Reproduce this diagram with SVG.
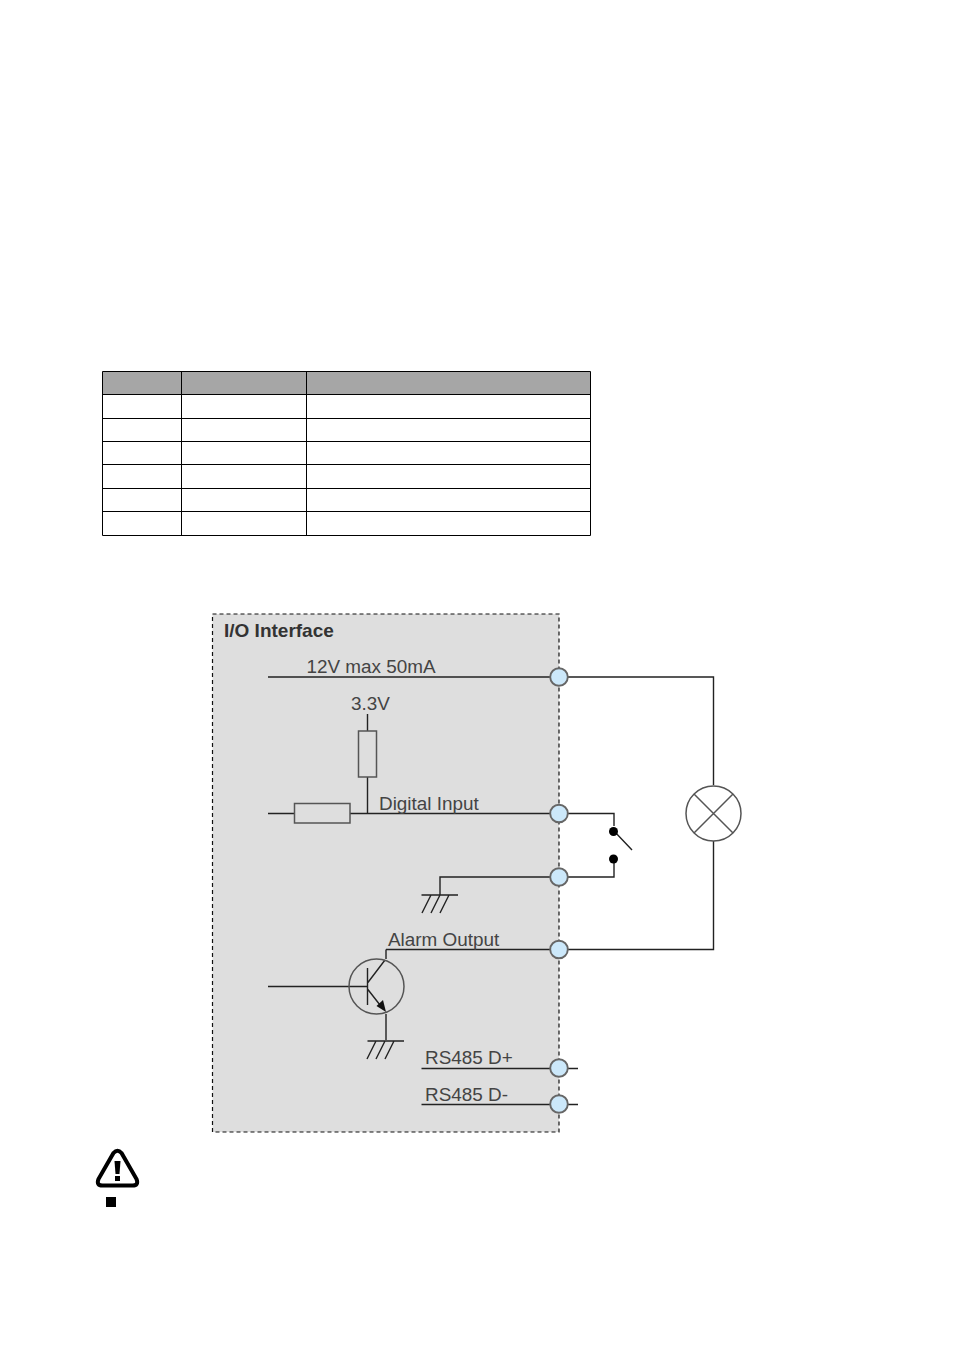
<svg xmlns="http://www.w3.org/2000/svg" width="954" height="1350" viewBox="0 0 954 1350">
<style>
.w{fill:none;stroke:#222;stroke-width:1.4}
.g{fill:none;stroke:#555;stroke-width:1.5}
.b{fill:#cce8fa;stroke:#666;stroke-width:1.9}
.t{font-family:"Liberation Sans",Arial,sans-serif;font-size:18.9px;fill:#444}
.tb{fill:none;stroke:#000;stroke-width:1}
</style>
<rect width="954" height="1350" fill="#fff"/>
<g id="table">
<rect x="102.5" y="371.5" width="488" height="23" fill="#a6a6a6"/>
<path class="tb" d="M102.5 371.5H590.5V535.5H102.5ZM102.5 394.5H590.5M102.5 418.5H590.5M102.5 441.5H590.5M102.5 464.5H590.5M102.5 488.5H590.5M102.5 511.5H590.5M181.5 371.5V535.5M306.5 371.5V535.5"/>
</g>
<g id="interface">
<rect x="212.5" y="614" width="346.5" height="518" fill="#dedede" stroke="#111" stroke-width="1.2" stroke-dasharray="4 3"/>
<text class="t" x="224" y="637" style="font-weight:bold;font-size:19px;fill:#333">I/O Interface</text>
</g>
<g id="connectors">
<path class="w" d="M268 677H713.5V785M713.5 841V949.5H386M268 813.5H294.500M350 813.500H614V826M614 859V877H440V895M367.500 813.500V777M367.500 731V714M386 949.500V959M268 986.500H367.500M386 1014V1040M421.500 1068.500H578M421.500 1104.500H578"/>
<path class="w" d="M422 913L431 895M431 913L440 895M440 913L449 895M421.500 895H458M367 1059L376 1041M376 1059L385 1041M385 1059L394 1041M367.500 1041H404M614 831L632 850"/>
<path class="w" d="M367.500 968V1005M367.500 983L385 960M367.500 989L380 1005"/>
<path fill="#111" d="M386 1012L376.500 1006L383 1000Z"/>
</g>
<g id="transistor"><circle class="g" cx="376.500" cy="986.500" r="27.500"/></g>
<g id="resistor-v"><rect class="g" x="358.500" y="731" width="18" height="46" fill="none"/></g>
<g id="resistor-h"><rect class="g" x="294.500" y="803.500" width="55.500" height="19.500"/></g>
<g id="lamp"><circle class="g" cx="713.500" cy="813.500" r="27.500" style="fill:#fff"/><path class="g" d="M694 794L733 833M733 794L694 833"/></g>
<g id="switch"><circle cx="613.500" cy="831.500" r="4.500" fill="#000"/><circle cx="613.500" cy="859" r="4.500" fill="#000"/></g>
<g id="nodes">
<circle id="n1" class="b" cx="559" cy="677" r="8.800"/>
<circle id="n2" class="b" cx="559" cy="813.500" r="8.800"/>
<circle id="n3" class="b" cx="559" cy="877" r="8.800"/>
<circle id="n4" class="b" cx="559" cy="949.500" r="8.800"/>
<circle id="n5" class="b" cx="559" cy="1068" r="8.800"/>
<circle id="n6" class="b" cx="559" cy="1104" r="8.800"/>
</g>
<g id="labels">
<text class="t" x="306.500" y="673">12V max 50mA</text>
<text class="t" x="351" y="710">3.3V</text>
<text class="t" x="379" y="810">Digital Input</text>
<text class="t" x="388" y="946">Alarm Output</text>
<text class="t" x="425" y="1064">RS485 D+</text>
<text class="t" x="425" y="1101">RS485 D-</text>
</g>
<g id="warning">
<path d="M113.500 1153Q117.500 1148.500 121.500 1153L136.500 1179Q139 1185.500 132.500 1185.500H102.500Q96 1185.500 98.500 1179Z" fill="none" stroke="#000" stroke-width="4"/>
<path d="M114.500 1161H120.500L119.500 1174H115.500Z" fill="#000"/>
<rect x="115" y="1176" width="5" height="5" fill="#000"/>
<rect x="106" y="1197" width="10" height="10" fill="#000"/>
</g>
</svg>
